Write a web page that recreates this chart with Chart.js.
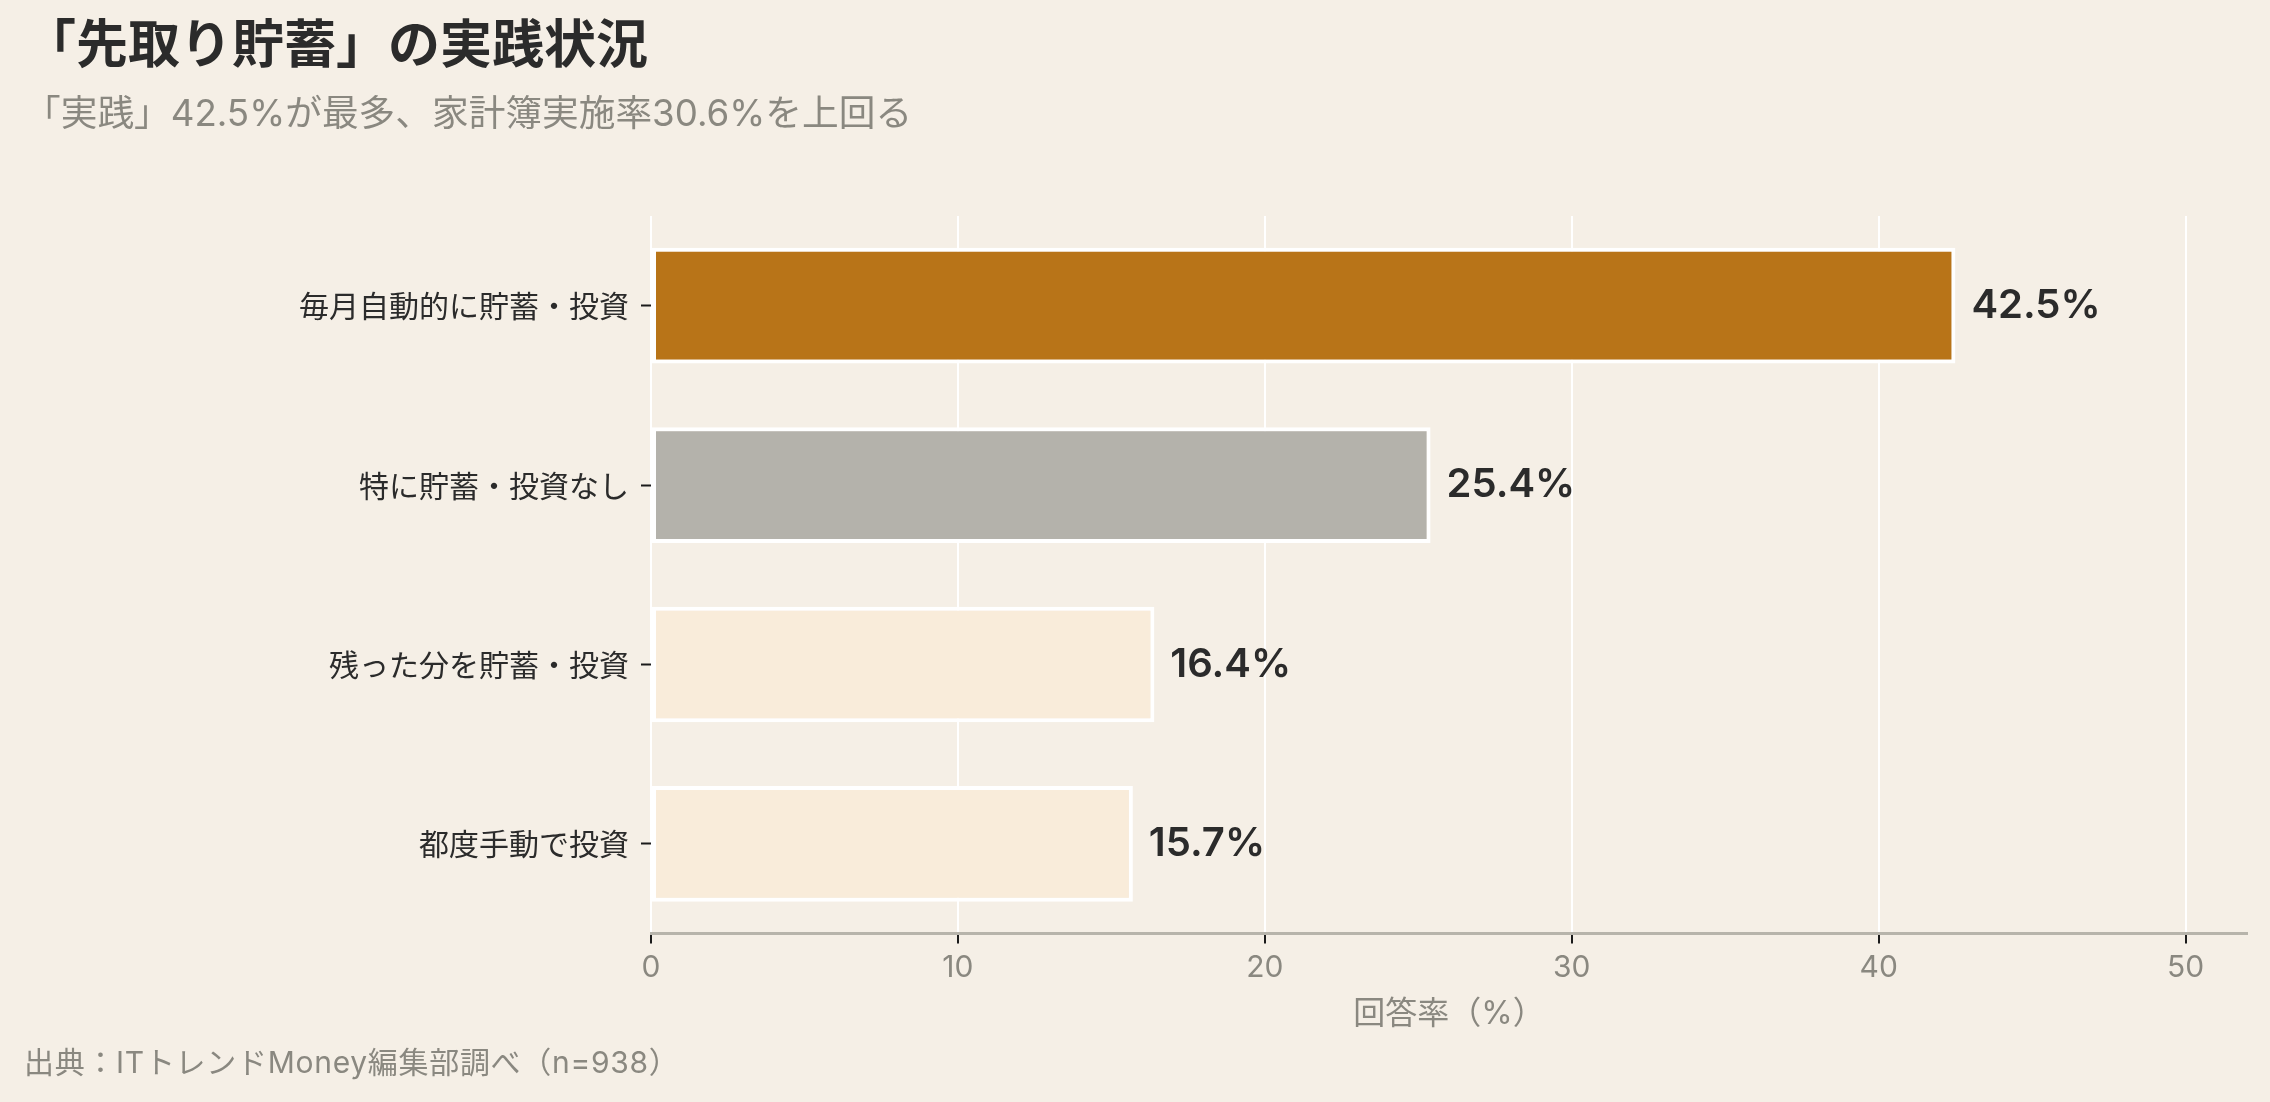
<!DOCTYPE html>
<html lang="ja">
<head>
<meta charset="utf-8">
<script src="https://cdn.jsdelivr.net/npm/chart.js@4.4.1/dist/chart.umd.min.js"></script>
<style>
  html, body { margin: 0; padding: 0; background: #f5efe6; }
  #wrap { position: relative; width: 2270px; height: 1102px; background: #f5efe6; overflow: hidden; }
  #chart { position: absolute; left: 0; top: 0; }
  .txt { position: absolute; white-space: nowrap; font-family: Inter, 'Noto Sans CJK JP', sans-serif; line-height: 1; }
  #title { left: 24px; top: 15px; font-size: 52px; font-weight: 700; color: #2b2b2b; font-family: 'Noto Sans CJK JP', sans-serif; }
  #subtitle { left: 24px; top: 95px; font-size: 36.7px; font-weight: 400; color: #8a8880; }
  #footer { left: 24px; top: 1047px; font-size: 30px; letter-spacing: 0.7px; font-weight: 400; color: #8a8880; }
</style>
</head>
<body>
<div id="wrap">
  <canvas id="chart" width="2270" height="1102"></canvas>
  <div class="txt" id="title">「先取り貯蓄」の実践状況</div>
  <div class="txt" id="subtitle">「実践」42.5%が最多、家計簿実施率30.6%を上回る</div>
  <div class="txt" id="footer">出典：ITトレンドMoney編集部調べ（n=938）</div>
</div>
<script>
// ---- data ----
const categories = ['毎月自動的に貯蓄・投資', '特に貯蓄・投資なし', '残った分を貯蓄・投資', '都度手動で投資'];
const values = [42.5, 25.4, 16.4, 15.7];
const barColors = ['#b87418', '#b4b2ab', '#f9ecda', '#f9ecda'];
const xTickValues = [0, 10, 20, 30, 40, 50];
const xAxisTitle = '回答率（%）';
const xMax = 52;

const FONT = "'Noto Sans CJK JP', sans-serif";
const LATIN = "Inter, 'Noto Sans CJK JP', sans-serif";

const valueLabels = {
  id: 'valueLabels',
  afterDatasetsDraw(chart) {
    const ctx = chart.ctx;
    const meta = chart.getDatasetMeta(0);
    ctx.save();
    ctx.font = `600 40px ${LATIN}`;
    ctx.fillStyle = '#2b2b2b';
    ctx.textAlign = 'left';
    ctx.textBaseline = 'middle';
    meta.data.forEach((bar, i) => {
      ctx.fillText(values[i].toFixed(1) + '%', bar.x + 16, bar.y);
    });
    ctx.restore();
  }
};

new Chart(document.getElementById('chart'), {
  type: 'bar',
  data: {
    labels: categories,
    datasets: [{
      data: values,
      backgroundColor: barColors,
      borderColor: '#ffffff',
      borderWidth: 4,
      borderSkipped: false,
      categoryPercentage: 1.0,
      barPercentage: 0.645
    }]
  },
  options: {
    indexAxis: 'y',
    responsive: false,
    animation: false,
    events: [],
    layout: { padding: { top: 216, right: 23, bottom: 68, left: 0 } },
    plugins: {
      legend: { display: false },
      tooltip: { enabled: false },
      title: { display: false }
    },
    scales: {
      x: {
        min: 0,
        max: xMax,
        afterBuildTicks(scale) { scale.ticks = xTickValues.map(v => ({ value: v })); },
        grid: {
          color: '#ffffff',
          lineWidth: 2,
          drawTicks: true,
          tickLength: 10,
          tickColor: '#1a1a1a',
          tickWidth: 2
        },
        border: { display: true, color: '#b7b4ab', width: 3 },
        ticks: {
          padding: 6,
          color: '#8a8880',
          font: { family: LATIN, size: 30 },
          callback: (v) => String(v)
        },
        title: {
          display: true,
          text: xAxisTitle,
          color: '#8a8880',
          font: { family: LATIN, size: 32 },
          padding: { top: 4, bottom: 0 }
        }
      },
      y: {
        afterFit(scale) { scale.width = 651; },
        grid: {
          display: true,
          offset: false,
          drawOnChartArea: false,
          drawTicks: true,
          tickLength: 10,
          tickColor: '#1a1a1a',
          tickWidth: 2
        },
        border: { display: false },
        ticks: {
          padding: 12,
          color: '#2b2b2b',
          font: { family: FONT, size: 30 }
        }
      }
    }
  },
  plugins: [valueLabels]
});
</script>
</body>
</html>
